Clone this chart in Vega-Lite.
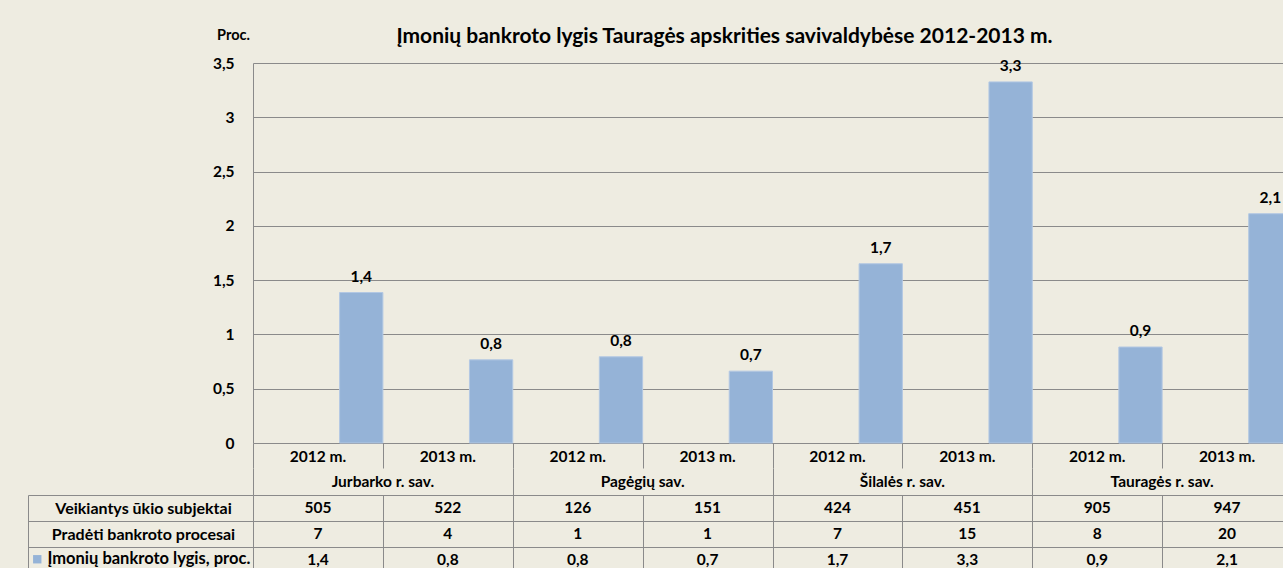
{
  "$schema": "https://vega.github.io/schema/vega-lite/v6.json",
  "background": "#EEECE1",
  "padding": {"left": 27, "top": 26, "right": 0, "bottom": 0},
  "autosize": {"type": "pad"},
  "config": {
    "font": "Lato",
    "locale": {"number": {"decimal": ",", "thousands": " ", "grouping": [3], "currency": ["", " €"]}},
    "view": {"stroke": null},
    "axis": {"gridColor": "#8a8a8a", "gridOpacity": 1, "domainColor": "#8a8a8a", "tickColor": "#8a8a8a", "labelColor": "#000000", "titleColor": "#000000", "labelFont": "Lato", "titleFont": "Lato"}
  },
  "datasets": {
    "d": [
      {"muni": "Jurbarko r. sav.", "year": "2012 m.", "slot": "Jurbarko r. sav. 2012 m.", "active": 505, "started": 7, "rate": 1.386},
      {"muni": "Jurbarko r. sav.", "year": "2013 m.", "slot": "Jurbarko r. sav. 2013 m.", "active": 522, "started": 4, "rate": 0.766},
      {"muni": "Pagėgių sav.", "year": "2012 m.", "slot": "Pagėgių sav. 2012 m.", "active": 126, "started": 1, "rate": 0.794},
      {"muni": "Pagėgių sav.", "year": "2013 m.", "slot": "Pagėgių sav. 2013 m.", "active": 151, "started": 1, "rate": 0.662},
      {"muni": "Šilalės r. sav.", "year": "2012 m.", "slot": "Šilalės r. sav. 2012 m.", "active": 424, "started": 7, "rate": 1.651},
      {"muni": "Šilalės r. sav.", "year": "2013 m.", "slot": "Šilalės r. sav. 2013 m.", "active": 451, "started": 15, "rate": 3.326},
      {"muni": "Tauragės r. sav.", "year": "2012 m.", "slot": "Tauragės r. sav. 2012 m.", "active": 905, "started": 8, "rate": 0.884},
      {"muni": "Tauragės r. sav.", "year": "2013 m.", "slot": "Tauragės r. sav. 2013 m.", "active": 947, "started": 20, "rate": 2.112}
    ]
  },
  "bounds": "flush",
  "spacing": 0,
  "resolve": {"scale": {"x": "independent", "y": "independent"}},
  "vconcat": [
    {
      "width": 1039,
      "height": 380,
      "data": {"name": "d"},
      "title": {"text": "Įmonių bankroto lygis Tauragės apskrities savivaldybėse 2012-2013 m.", "fontSize": 21, "fontWeight": "bold", "font": "Lato", "color": "#000000", "anchor": "middle", "dx": -48, "offset": -20},
      "encoding": {
        "x": {"field": "slot", "type": "nominal", "sort": null, "scale": {"paddingInner": 0, "paddingOuter": 0}, "axis": null},
        "xOffset": {"datum": "Įmonių bankroto lygis, proc.", "type": "nominal", "scale": {"domain": ["Veikiantys ūkio subjektai", "Pradėti bankroto procesai", "Įmonių bankroto lygis, proc."], "paddingInner": 0, "paddingOuter": 0}},
        "y": {
          "field": "rate", "type": "quantitative",
          "scale": {"domain": [0, 3.5], "nice": false},
          "axis": {"values": [0, 0.5, 1, 1.5, 2, 2.5, 3, 3.5], "format": ".1~f", "grid": true, "ticks": false, "domain": true, "labelPadding": 19, "labelFontSize": 15.5, "labelFontWeight": "bold", "title": "Proc.", "titleAngle": 0, "titleX": -20, "titleY": -28, "titleAlign": "center", "titleBaseline": "middle", "titleFontSize": 14.5, "titleFontWeight": "bold"}
        }
      },
      "layer": [
        {
          "mark": {"type": "bar", "stroke": "#B3C8E3", "strokeWidth": 1},
          "encoding": {
            "color": {"datum": "Įmonių bankroto lygis, proc.", "type": "nominal", "scale": {"range": ["#95B3D7"]},
              "legend": {"orient": "none", "legendX": -224, "legendY": 488, "title": null, "symbolType": "square", "symbolSize": 70, "symbolStrokeWidth": 0, "labelFontSize": 16.5, "labelFontWeight": "bold", "labelColor": "#000000", "labelFont": "Lato", "labelLimit": 400, "padding": 0, "labelOffset": 2}}
          }
        },
        {
          "mark": {"type": "text", "baseline": "bottom", "dy": -8, "fontSize": 15.5, "fontWeight": "bold", "color": "#000000"},
          "encoding": {"text": {"field": "rate", "type": "quantitative", "format": ".1f"}}
        }
      ]
    },
    {
      "width": 1039,
      "height": 25,
      "data": {"name": "d"},
      "mark": {"type": "text", "fontSize": 15.5, "fontWeight": "bold", "color": "#000000", "dy": 1},
      "encoding": {
        "x": {"field": "slot", "type": "nominal", "sort": null, "scale": {"paddingInner": 0, "paddingOuter": 0}, "axis": {"grid": true, "tickBand": "extent", "labels": false, "ticks": false, "domain": false, "title": null}},
        "text": {"field": "year"}
      }
    },
    {
      "width": 1039,
      "height": 27,
      "data": {"name": "d"},
      "transform": [{"aggregate": [{"op": "count", "as": "n"}], "groupby": ["muni"]}],
      "mark": {"type": "text", "fontSize": 15.5, "fontWeight": "bold", "color": "#000000"},
      "encoding": {
        "x": {"field": "muni", "type": "nominal", "sort": ["Jurbarko r. sav.", "Pagėgių sav.", "Šilalės r. sav.", "Tauragės r. sav."], "scale": {"paddingInner": 0, "paddingOuter": 0}, "axis": {"grid": true, "tickBand": "extent", "labels": false, "ticks": false, "domain": false, "title": null}},
        "text": {"field": "muni"}
      }
    },
    {
      "width": 1039,
      "height": 78,
      "data": {"name": "d"},
      "transform": [{"fold": ["active", "started", "rate"], "as": ["key", "value"]}],
      "encoding": {
        "x": {"field": "slot", "type": "nominal", "sort": null, "scale": {"paddingInner": 0, "paddingOuter": 0}, "axis": {"grid": true, "tickBand": "extent", "labels": false, "ticks": false, "domain": false, "title": null}},
        "y": {"field": "key", "type": "nominal", "scale": {"domain": ["active", "started", "rate"], "paddingInner": 0, "paddingOuter": 0},
          "axis": {"title": null, "grid": true, "tickBand": "extent", "ticks": true, "tickSize": 225, "domain": false, "labelAlign": "center", "labelPadding": -115, "labelLimit": 300, "labelFontSize": 16, "labelFontWeight": "bold", "labelExpr": "datum.value == 'active' ? 'Veikiantys ūkio subjektai' : datum.value == 'started' ? 'Pradėti bankroto procesai' : ''"}}
      },
      "layer": [
        {
          "mark": {"type": "text", "fontSize": 15.5, "fontWeight": "bold", "color": "#000000"},
          "encoding": {"text": {"field": "value", "type": "quantitative", "format": ".1~f"}}
        },
        {
          "mark": {"type": "text", "opacity": 0},
          "encoding": {"y": {"field": "key", "type": "nominal", "axis": {"orient": "left", "offset": 225, "domain": true, "ticks": false, "labels": false, "grid": false, "title": null}}}
        }
      ],
      "resolve": {"axis": {"y": "independent"}}
    }
  ]
}
